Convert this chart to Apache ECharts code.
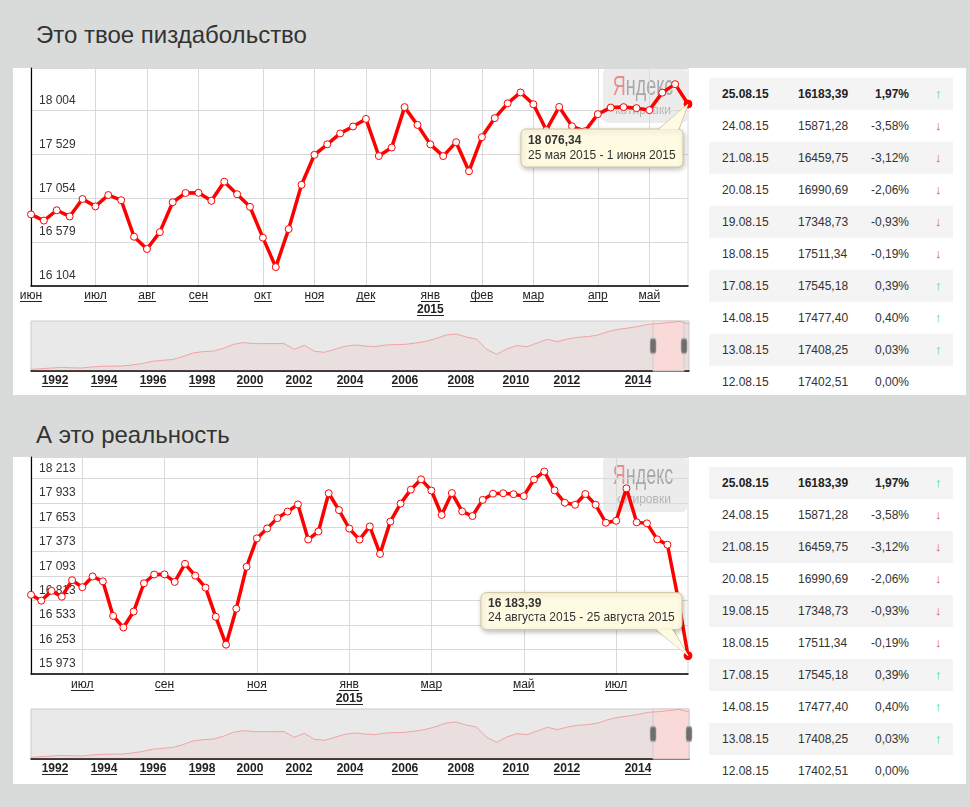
<!DOCTYPE html>
<html>
<head>
<meta charset="utf-8">
<script src="https://cdn.jsdelivr.net/npm/echarts@6.0.0/dist/echarts.min.js"></script>
<style>
html,body{margin:0;padding:0;}
body{width:970px;height:807px;overflow:hidden;background:#d9dbda;position:relative;font-family:'Liberation Sans',Arial,sans-serif;}
.title{position:absolute;left:36px;font-size:24px;line-height:28px;color:#333;white-space:nowrap;}
.panel{position:absolute;left:13px;width:953px;height:327px;background:#fff;}
.row{position:absolute;left:709px;width:244px;height:32px;font-size:12px;color:#333;}
.row.band{background:#f4f4f4;}
.row.first{font-weight:bold;color:#222;}
.row span{position:absolute;top:0;line-height:32px;white-space:nowrap;}
.c1{left:13px}.c2{left:89px}.c3{right:44px;text-align:right}.c4{left:226px;font-size:13px}
.up{color:#48d66a}.down{color:#e9534f}
#chart{position:absolute;left:0;top:0;width:970px;height:807px;}
</style>
</head>
<body>
<div class="title" style="top:21px">Это твое пиздабольство</div>
<div class="title" style="top:421px">А это реальность</div>
<div class="panel" style="top:68px"></div>
<div class="panel" style="top:457px"></div>
<div id="tables"></div>
<div id="chart"></div>
<script>
// ---------- data ----------
const weekDates = [
 '2014-06-02','2014-06-09','2014-06-16','2014-06-23','2014-06-30',
 '2014-07-07','2014-07-14','2014-07-21','2014-07-28',
 '2014-08-04','2014-08-11','2014-08-18','2014-08-25',
 '2014-09-01','2014-09-08','2014-09-15','2014-09-22','2014-09-29',
 '2014-10-06','2014-10-13','2014-10-20','2014-10-27',
 '2014-11-03','2014-11-10','2014-11-17','2014-11-24',
 '2014-12-01','2014-12-08','2014-12-15','2014-12-22','2014-12-29',
 '2015-01-05','2015-01-12','2015-01-19','2015-01-26',
 '2015-02-02','2015-02-09','2015-02-16','2015-02-23',
 '2015-03-02','2015-03-09','2015-03-16','2015-03-23','2015-03-30',
 '2015-04-06','2015-04-13','2015-04-20','2015-04-27',
 '2015-05-04','2015-05-11','2015-05-18','2015-05-25',
 '2015-06-01','2015-06-08','2015-06-15','2015-06-22','2015-06-29',
 '2015-07-06','2015-07-13','2015-07-20','2015-07-27',
 '2015-08-03','2015-08-10','2015-08-17','2015-08-24'
];
const weeklyClose = [
 16880,16813,16925,16858,17047,
 16967,17090,17034,16638,
 16505,16688,17012,17112,
 17114,17027,17235,17099,16962,
 16628,16309,16721,17201,
 17526,17640,17758,17833,
 17915,17513,17605,18043,17850,
 17639,17512,17663,17348,
 17718,17924,18084,18202,
 18074,17794,18045,17835,17782,
 17967,18038,18043,18032,
 18010,18200,18292,18076.34,
 17934,17911,18034,17911,17705,
 17728,18099,17710,17698,
 17515,17453,16858,16183.39
];
const topWeekCount = 52;               // first chart ends with week 25.05.2015
const topYTicks = [16104,16579,17054,17529,18004];
const topYMax = 18467;
const bottomYTicks = [15973,16253,16533,16813,17093,17373,17653,17933,18213];
const bottomYMax = 18458;

// overview (navigator) curve
const navValues = [
 2900,3100,3300,3500,3400,3300,3650,3850,3920,3950,
 4270,4750,5450,5770,6020,6950,8100,8540,8700,9590,
 10870,11410,11090,11090,11100,11100,9270,10540,8640,8320,
 9270,10230,10650,10330,10130,10640,10770,10870,11280,11820,
 12680,13830,14150,13190,12550,9270,7680,9370,10450,10130,
 11280,12460,11730,12550,13100,13320,13830,14910,15650,16060,
 16600,17240,17460,17780,18190,17340
];
const navYearLabels = ['1992','1994','1996','1998','2000','2002','2004','2006','2008','2010','2012','2014'];
const navYearPos = [2.37,7.21,12.05,16.89,21.63,26.47,31.51,36.94,42.47,47.9,52.94,59.96];
const navYMin = 2360, navYMax = 18300;
const navWindowTop = [61.45, 64.51];
const navWindowBottom = [61.45, 65];

// quotes table
const tableDates = ['25.08.15','24.08.15','21.08.15','20.08.15','19.08.15','18.08.15','17.08.15','14.08.15','13.08.15','12.08.15'];
const tableCloses = ['16183,39','15871,28','16459,75','16990,69','17348,73','17511,34','17545,18','17477,40','17408,25','17402,51'];
const tableChanges = [1.97,-3.58,-3.12,-2.06,-0.93,-0.19,0.39,0.40,0.03,0.00];

// ---------- helpers ----------
const MONTHS = ['янв','фев','мар','апр','май','июн','июл','авг','сен','окт','ноя','дек'];
const MONTHS_GEN = ['января','февраля','марта','апреля','мая','июня','июля','августа','сентября','октября','ноября','декабря'];
const FONT = "'Liberation Sans', Arial, sans-serif";
function grp(s){ return s.replace(/\B(?=(\d{3})+(?!\d))/g,' '); }
function fmtInt(v){ return grp(String(Math.round(v))); }
function fmtVal(v){ const p = v.toFixed(2).split('.'); return grp(p[0]) + ',' + p[1]; }
function fmtDate(iso){ const [y,m,d] = iso.split('-'); return (+d) + ' ' + MONTHS_GEN[+m-1] + ' ' + y; }
function fmtPct(v){ return v.toFixed(2).replace('.',',') + '%'; }

// tables
(function(){
  let html = '';
  [68, 457].forEach(function(top){
    for (let i = 0; i < tableDates.length; i++) {
      const ch = tableChanges[i];
      const arrow = ch > 0 ? '<span class="c4 up">↑</span>' : (ch < 0 ? '<span class="c4 down">↓</span>' : '');
      html += '<div class="row' + (i % 2 === 0 ? ' band' : '') + (i === 0 ? ' first' : '') +
        '" style="top:' + (top + 10 + 32 * i) + 'px"><span class="c1">' + tableDates[i] +
        '</span><span class="c2">' + tableCloses[i] + '</span><span class="c3">' + fmtPct(ch) +
        '</span>' + arrow + '</div>';
    }
  });
  document.getElementById('tables').innerHTML = html;
})();

function underline(color){
  const c = document.createElement('canvas'); c.width = 4; c.height = 28;
  const g = c.getContext('2d'); g.fillStyle = color; g.fillRect(0, 26, 4, 2); return c;
}
const UL = underline('#222');
const rich = {
  m:{fontSize:12,lineHeight:14,color:'#222',fontFamily:FONT,backgroundColor:{image:UL}},
  y:{fontSize:12,lineHeight:14,color:'#222',fontWeight:'bold',fontFamily:FONT,backgroundColor:{image:UL}}
};

const topDates = weekDates.slice(0, topWeekCount);
function isMonthStart(dates, i){ return i === 0 || dates[i].slice(5,7) !== dates[i-1].slice(5,7); }
const topShow = (i) => isMonthStart(topDates, i);
const bottomShow = (i) => i > 0 && isMonthStart(weekDates, i) && ((+weekDates[i].slice(5,7)) % 2 === 1);

function monthLabel(v){
  const mo = +v.slice(5,7);
  return mo === 1 ? '{m|' + MONTHS[0] + '}\n{y|' + v.slice(0,4) + '}' : '{m|' + MONTHS[mo-1] + '}';
}
function mainX(gridIndex, dates, showFn, margin){
  return {type:'category', gridIndex, data:dates, boundaryGap:false,
    axisLine:{show:true, lineStyle:{color:'#000', width:1.5}}, axisTick:{show:false},
    axisLabel:{interval:(i)=>showFn(i), margin, formatter:monthLabel, rich},
    splitLine:{show:true, interval:(i)=>showFn(i), lineStyle:{color:'#d9d9d9', width:1}}};
}
function mainY(gridIndex, ticks, max){
  return {type:'value', gridIndex, min:ticks[0], max, interval:ticks[1]-ticks[0],
    axisLine:{show:true, lineStyle:{color:'#000', width:1.2}}, axisTick:{show:false},
    axisLabel:{inside:true, margin:8, verticalAlign:'bottom', padding:[0,0,3,0], lineHeight:14,
      fontSize:12, color:'#333', fontFamily:FONT, showMaxLabel:false, showMinLabel:true,
      formatter:(v)=> v > ticks[ticks.length-1] ? '' : fmtInt(v)},
    splitLine:{show:true, lineStyle:{color:'#d9d9d9', width:1}}};
}
function navX(gridIndex){
  return {type:'value', gridIndex, min:0, max:navValues.length-1,
    axisLine:{show:true, onZero:false, lineStyle:{color:'#000', width:1.5}}, axisTick:{show:false},
    splitLine:{show:false},
    axisLabel:{customValues:navYearPos, margin:3, showMinLabel:true, showMaxLabel:true,
      formatter:(v)=>{ let k=-1; navYearPos.forEach((p,j)=>{ if (Math.abs(p-v) < 0.01) k=j; });
        return k < 0 ? '' : '{y|' + navYearLabels[k] + '}'; }, rich}};
}
function navY(gridIndex){ return {type:'value', gridIndex, min:navYMin, max:navYMax, show:false, splitLine:{show:false}}; }

function mainSeries(idx, vals){
  return {type:'line', xAxisIndex:idx, yAxisIndex:idx, z:3,
    data: vals.map((v,i)=> i === vals.length-1 ? {value:v, symbolSize:8, itemStyle:{color:'#ff0000', borderColor:'#ff0000'}} : v),
    symbol:'circle', symbolSize:7, showAllSymbol:true, animation:false,
    lineStyle:{color:'#ff0000', width:3.5}, itemStyle:{color:'#ffffff', borderColor:'#ff0000', borderWidth:1},
    emphasis:{disabled:true}};
}
const navMid = (navYMin + navYMax) / 2;
function navSeries(idx, win){
  return {type:'line', xAxisIndex:idx, yAxisIndex:idx, symbol:'none', animation:false,
    data: navValues.map((v,i)=>[i,v]),
    lineStyle:{color:'#f1a3a3', width:1}, areaStyle:{color:'rgba(235,150,150,0.17)'},
    emphasis:{disabled:true},
    markArea:{silent:true, itemStyle:{color:'rgba(255,225,225,0.85)', borderColor:'#d0d0d0', borderWidth:1},
      data:[[{xAxis:win[0]},{xAxis:win[1]}]]},
    markPoint:{silent:true, symbol:'roundRect', symbolSize:[6,15], label:{show:false},
      itemStyle:{color:'#6e6e6e', borderColor:'#b4b4b4', borderWidth:1},
      data:[{coord:[win[0], navMid]},{coord:[win[1], navMid]}]}};
}

function watermark(id, top){
  return [
    {type:'rect', id:id+'bg', z:-10, silent:true, shape:{x:603,y:top,width:84,height:55,r:5}, style:{fill:'#ececec'}},
    {type:'text', id:id+'t1', z:-9, silent:true, x:643, y:top+19, scaleX:0.64,
      style:{text:'{r|Я}{g|ндекс}', align:'center', verticalAlign:'middle',
      rich:{r:{fill:'#ec8c8c', fontSize:28, fontFamily:FONT}, g:{fill:'#a8a8a8', fontSize:28, fontFamily:FONT}}}},
    {type:'text', id:id+'t2', z:-9, silent:true, x:643, y:top+43,
      style:{text:'котировки', fill:'#b3b3b3', fontSize:12, fontFamily:FONT, align:'center', verticalAlign:'middle'}}
  ];
}

const chart = echarts.init(document.getElementById('chart'), null, {renderer:'canvas'});
chart.setOption({
  backgroundColor:'transparent',
  animation:false,
  grid:[
    {left:31, top:68, width:657, height:218, show:true, borderColor:'#d9d9d9', borderWidth:1, backgroundColor:'transparent'},
    {left:31, top:321, width:658, height:50, show:true, borderColor:'#cccccc', borderWidth:1, backgroundColor:'#e9e9e9'},
    {left:31, top:457, width:657, height:217, show:true, borderColor:'#d9d9d9', borderWidth:1, backgroundColor:'transparent'},
    {left:31, top:709, width:658, height:50, show:true, borderColor:'#cccccc', borderWidth:1, backgroundColor:'#e9e9e9'}
  ],
  xAxis:[
    mainX(0, topDates, topShow, 3),
    navX(1),
    mainX(2, weekDates, bottomShow, 4),
    navX(3)
  ],
  yAxis:[
    mainY(0, topYTicks, topYMax),
    navY(1),
    mainY(2, bottomYTicks, bottomYMax),
    navY(3)
  ],
  series:[
    mainSeries(0, weeklyClose.slice(0, topWeekCount)),
    navSeries(1, navWindowTop),
    mainSeries(2, weeklyClose),
    navSeries(3, navWindowBottom)
  ]
});

// ---------- static tooltips anchored at the last points ----------
const mctx = document.createElement('canvas').getContext('2d');
function tw(text, bold){ mctx.font = (bold ? 'bold ' : '') + '12px ' + FONT; return mctx.measureText(text).width; }
function tip(id, seriesIndex, dataIndex, value, line1, line2, below){
  const p = chart.convertToPixel({seriesIndex}, [dataIndex, value]);
  const w = Math.round(Math.max(tw(line1, true), tw(line2, false)) + 14);
  const h = below ? 38 : 37;
  const x = below ? p[0] - 5 - w : p[0] - 6 - w;
  const y = below ? p[1] + 25 : p[1] - 26 - h;
  const baseY = below ? y + 0.5 : y + h - 0.5;
  const tail = below ? [[x+w-25, baseY],[x+w-4, baseY],[p[0], p[1]]] : [[x+w-27, baseY],[x+w-9, baseY],[p[0], p[1]]];
  const inner = tail.map((q,k)=> k<2 ? [q[0] + (k===0?1:-1), q[1]] : q);
  const fill = '#fffbe3', stroke = '#d3c69c';
  return [
    {type:'polygon', id:id+'tail', z:100, silent:true, shape:{points:tail}, style:{fill, stroke, lineWidth:1}},
    {type:'rect', id:id+'box', z:101, silent:true, shape:{x, y, width:w, height:h, r:5},
      style:{fill, stroke, lineWidth:1, shadowBlur:5, shadowColor:'rgba(0,0,0,0.25)', shadowOffsetX:1, shadowOffsetY:2}},
    {type:'polygon', id:id+'cover', z:102, silent:true, shape:{points:inner}, style:{fill}},
    {type:'text', id:id+'l1', z:103, silent:true, x:x+7, y:y+(below?12:11), style:{text:line1, fill:'#333', fontSize:12, fontWeight:'bold', fontFamily:FONT, verticalAlign:'middle'}},
    {type:'text', id:id+'l2', z:103, silent:true, x:x+7, y:y+(below?27:25), style:{text:line2, fill:'#333', fontSize:12, fontFamily:FONT, verticalAlign:'middle'}}
  ];
}
const topLast = topWeekCount - 1;
const lastIdx = weeklyClose.length - 1;
const td = tableDates[0].split('.');
const lastQuoteDate = '20' + td[2] + '-' + td[1] + '-' + td[0];
const graphics = [].concat(
  watermark('wm1', 68),
  watermark('wm2', 457),
  tip('tip1', 0, topLast, weeklyClose[topLast], fmtVal(weeklyClose[topLast]),
      fmtDate(weekDates[topLast]) + ' - ' + fmtDate(weekDates[topLast+1]), true),
  tip('tip2', 2, lastIdx, weeklyClose[lastIdx], fmtVal(weeklyClose[lastIdx]),
      fmtDate(weekDates[lastIdx]) + ' - ' + fmtDate(lastQuoteDate), false)
);
chart.setOption({graphic: graphics});
</script>
</body>
</html>
